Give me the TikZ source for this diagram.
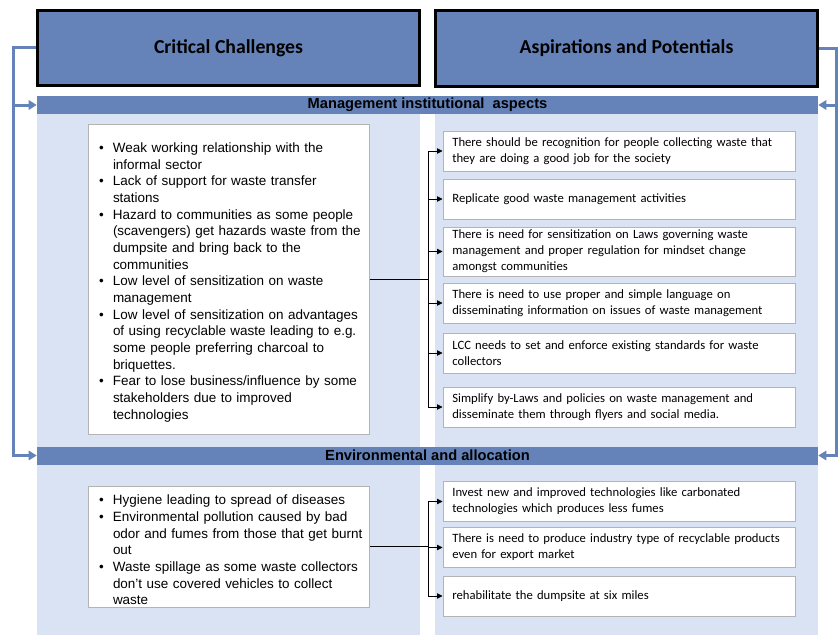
\documentclass[tikz,border=0pt]{standalone}
\usepackage{fontspec}
\setmainfont{Liberation Sans}
\newfontfamily\calibri{Carlito}
\usetikzlibrary{arrows.meta}

\definecolor{hdrblue}{HTML}{6583B9}
\definecolor{panelblue}{HTML}{DAE3F3}
\definecolor{boxgray}{HTML}{B4B4B4}

% bullet line with hanging indent
\newcommand{\bitem}[1]{\par\hangindent=10.5pt\hangafter=1\noindent\makebox[10.5pt][l]{\textbullet}#1}
\newcommand{\nohyph}{\hyphenpenalty=10000\exhyphenpenalty=10000}

\begin{document}
\begin{tikzpicture}[x=0.75pt, y=-0.75pt,
    header/.style={draw=black, line width=2pt, fill=hdrblue, minimum width=286.5pt,
      minimum height=56.5pt, font=\calibri\bfseries\fontsize{14.8}{16}\selectfont},
    band/.style={fill=hdrblue, minimum width=585.75pt, minimum height=13.5pt, inner sep=0pt,
      font=\bfseries\fontsize{11}{12}\selectfont},
    challenge/.style={draw=boxgray, line width=0.75pt, fill=white, inner xsep=0pt, inner ysep=0pt,
      text width=210.75pt, font=\nohyph\fontsize{10.1}{12.5}\selectfont},
    idea/.style={draw=boxgray, line width=0.75pt, fill=white, inner xsep=7pt, inner ysep=0.5pt,
      text width=250pt, minimum height=30pt, align=left, font=\nohyph\calibri\fontsize{9.5}{12}\selectfont},
    bracket/.style={draw=hdrblue, line width=2.25pt, -{Triangle[length=6pt,width=7pt]}},
    link/.style={draw=black, line width=0.6pt}]
  \useasboundingbox (0,0) rectangle (838,635);

  % background panels
  \fill[panelblue] (37,114) rectangle (420,447);
  \fill[panelblue] (435,114) rectangle (818,447);
  \fill[panelblue] (37,464) rectangle (420,635);
  \fill[panelblue] (435,464) rectangle (818,635);

  % headers and bands
  \node[header] (cc) at (228.5,48) {Critical Challenges};
  \node[header] (ap) at (626.5,48.5) {Aspirations and Potentials};
  \node[band] (band1) at (427.5,105) {Management institutional\ \ aspects};
  \node[band] (band2) at (427.5,455.5) {Environmental and allocation};

  % side brackets
  \coordinate (lc) at (13,48);
  \coordinate (rc) at (836,48.5);
  \draw[bracket] (cc.west) -- (lc) |- (band1.west);
  \draw[bracket] (lc) |- (band2.west);
  \draw[bracket] (ap.east) -- (rc) |- (band1.east);
  \draw[bracket] (rc) |- (band2.east);

  % challenges
  \node[challenge, minimum height=232.5pt] (lb1) at (228.5,279) {\leftskip=8.25pt\rightskip=3pt plus 1fil
    \bitem{Weak working relationship with the informal sector}
    \bitem{Lack of support for waste transfer stations}
    \bitem{Hazard to communities as some people (scavengers) get hazards waste from the dumpsite and bring back to the communities}
    \bitem{Low level of sensitization on waste management}
    \bitem{Low level of sensitization on advantages of using recyclable waste leading to e.g. some people preferring charcoal to briquettes.}
    \bitem{Fear to lose business/influence by some stakeholders due to improved technologies}\par};
  \node[challenge, minimum height=90.75pt] (lb2) at (228.5,546.5) {\leftskip=8.25pt\rightskip=3pt plus 1fil
    \bitem{Hygiene leading to spread of diseases}
    \bitem{Environmental pollution caused by bad odor and fumes from those that get burnt out}
    \bitem{Waste spillage as some waste collectors don’t use covered vehicles to collect waste}\par};

  % aspirations
  \node[idea] (rb1) at (619,151) {There should be recognition for people collecting waste that they are doing a good job for the society};
  \node[idea] (rb2) at (619,199) {Replicate good waste management activities};
  \node[idea, minimum height=36.75pt] (rb3) at (619,251.5) {There is need for sensitization on Laws governing waste management and proper regulation for mindset change amongst communities};
  \node[idea] (rb4) at (619,303) {There is need to use proper and simple language on disseminating information on issues of waste management};
  \node[idea] (rb5) at (619,353) {LCC needs to set and enforce existing standards for waste collectors};
  \node[idea] (rb6) at (619,407) {Simplify by-Laws and policies on waste management and disseminate them through flyers and social media.};
  \node[idea] (rb7) at (619,501.5) {Invest new and improved technologies like carbonated technologies which produces less fumes};
  \node[idea] (rb8) at (619,547.5) {There is need to produce industry type of recyclable products even for export market};
  \node[idea] (rb9) at (619,596) {rehabilitate the dumpsite at six miles};

  % connectors
  \coordinate (j1) at (428,279);
  \coordinate (j2) at (428,546.5);
  \draw[link] (lb1.east) -- (j1);
  \draw[link] (lb2.east) -- (j2);
  \foreach \i in {1,...,6}
    \draw[link, -{Triangle[length=4pt,width=4pt]}] (j1) |- (rb\i.west);
  \foreach \i in {7,8,9}
    \draw[link, -{Triangle[length=4pt,width=4pt]}] (j2) |- (rb\i.west);
\end{tikzpicture}
\end{document}
